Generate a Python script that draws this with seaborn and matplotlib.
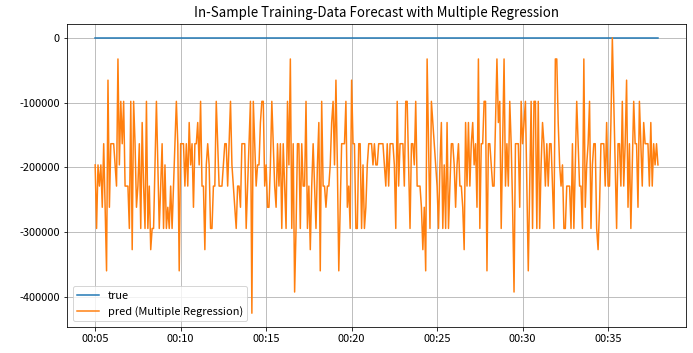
import matplotlib
matplotlib.use("Agg")
import matplotlib.pyplot as plt
import matplotlib.dates as mdates
import numpy as np
import pandas as pd
import seaborn as sns

# ---- data ----
title = "In-Sample Training-Data Forecast with Multiple Regression"
series_names = ["true", "pred (Multiple Regression)"]
start_time = "2000-01-01 00:05:00"
step = "5s"

pred_a = [
    -196200, -294300, -196200, -228900, -196200,
    -261600, -163500, -261600, -359700, -65400,
    -261600, -163500, -163500, -163500, -196200,
    -228900, -32700, -196200, -98100, -163500,
    -98100, -228900, -228900, -228900, -294300,
    -98100, -327000, -98100, -163500, -261600,
    -228900, -163500, -294300, -130800, -228900,
    -294300, -98100, -294300, -228900, -327000,
    -294300, -294300, -196200, -98100, -196200,
    -294300, -228900, -163500, -294300, -196200,
    -294300, -261600, -294300, -228900, -294300,
    -228900, -163500, -98100, -163500, -359700,
    -163500, -163500, -163500, -228900,
]
pred_b = [
    -163500, -228900, -130800, -196200, -163500,
    -261600, -163500, -163500, -130800, -196200,
    -98100, -228900, -228900, -327000, -196200,
    -163500, -196200, -294300, -294300, -228900,
    -228900, -98100, -163500, -228900, -228900,
    -228900, -196200, -163500, -163500, -228900,
    -163500, -98100, -196200, -228900, -261600,
    -294300, -228900, -228900, -261600, -163500,
    -163500, -163500, -294300, -228900, -163500,
    -98100, -425100, -98100, -163500, -228900,
    -196200, -196200, -130800, -98100, -98100,
    -228900, -196200, -261600, -261600, -196200,
    -98100, -163500, -228900, -261600, -163500,
    -228900,
]
pred_c = [
    -163500, -294300, -163500, -228900, -294300,
    -98100, -196200, -32700, -294300, -163500,
    -392400, -294300, -163500, -163500, -294300,
    -163500, -228900, -228900, -98100, -294300,
    -228900, -327000, -228900, -163500, -228900,
    -294300, -196200, -130800, -359700, -98100,
    -228900, -228900, -261600, -228900, -228900,
    -196200, -130800, -98100, -196200, -65400,
    -196200, -359700, -261600, -163500, -163500,
    -163500, -98100, -261600, -228900, -294300,
    -65400, -163500, -163500, -294300, -294300,
    -163500, -163500, -294300, -196200, -294300,
    -261600, -196200, -163500, -163500, -163500,
    -196200,
]
pred_d = [
    -163500, -196200, -196200, -163500, -163500,
    -163500, -163500, -196200, -228900, -163500,
    -228900, -163500, -163500, -163500, -196200,
    -294300, -98100, -228900, -163500, -163500,
    -163500, -228900, -98100, -98100, -196200,
    -294300, -163500, -163500, -196200, -98100,
    -228900, -228900, -228900, -261600, -327000,
    -261600, -359700, -32700, -163500, -294300,
    -98100, -130800, -163500, -196200, -228900,
    -294300, -196200, -130800, -294300, -196200,
    -294300, -130800, -294300, -228900, -163500,
    -163500, -196200, -261600, -196200, -163500,
    -228900, -228900, -261600, -327000, -130800,
    -228900,
]
pred_e = [
    -130800, -228900, -163500, -130800, -196200,
    -163500, -261600, -32700, -294300, -163500,
    -163500, -98100, -98100, -359700, -163500,
    -163500, -196200, -228900, -228900, -130800,
    -32700, -130800, -98100, -294300, -163500,
    -32700, -228900, -163500, -228900, -98100,
    -163500, -261600, -392400, -163500, -163500,
    -163500, -261600, -98100, -163500, -130800,
    -98100, -228900, -359700, -228900, -98100,
    -294300, -98100, -98100, -294300, -98100,
    -294300, -196200, -130800, -163500, -228900,
    -163500, -228900, -163500, -163500, -228900,
    -294300, -32700, -32700, -130800, -196200,
    -228900,
]
pred_f = [
    -196200, -294300, -294300, -228900, -228900,
    -228900, -294300, -163500, -294300, -196200,
    -98100, -163500, -228900, -228900, -294300,
    -32700, -261600, -196200, -163500, -98100,
    -294300, -196200, -163500, -163500, -294300,
    -327000, -261600, -163500, -163500, -163500,
    -228900, -130800, -228900, -228900, -130800,
    0, -98100, -196200, -294300, -163500,
    -163500, -228900, -98100, -228900, -163500,
    -65400, -261600, -163500, -294300, -196200,
    -98100, -163500, -163500, -261600, -98100,
    -163500, -228900, -130800, -163500, -163500,
    -163500, -228900, -130800, -228900, -163500,
    -196200, -163500, -196200,
]

pred_values = pred_a + pred_b + pred_c + pred_d + pred_e + pred_f
true_values = [0] * len(pred_values)
times = pd.date_range(start=start_time, periods=len(pred_values), freq=step)

# ---- figure ----
plt.rcParams["font.family"] = ["Noto Sans CJK JP", "DejaVu Sans"]
plt.rcParams["axes.unicode_minus"] = False

fig, ax = plt.subplots(figsize=(693 / 72, 353 / 72), dpi=72)
fig.subplots_adjust(left=0.0967, right=0.99, top=0.932, bottom=0.0737)

sns.lineplot(x=times, y=true_values, ax=ax, label=series_names[0],
             color="#1f77b4", linewidth=1.5, estimator=None)
sns.lineplot(x=times, y=pred_values, ax=ax, label=series_names[1],
             color="#ff7f0e", linewidth=1.5, estimator=None)

ax.set_title(title, fontsize=13.3, pad=7)
ax.set_xlabel("")
ax.set_ylabel("")
ax.tick_params(labelsize=11)
ax.grid(True, color="#b0b0b0", linewidth=0.8)
ax.xaxis.set_major_locator(mdates.MinuteLocator(byminute=range(0, 60, 5)))
ax.xaxis.set_major_formatter(mdates.DateFormatter("%H:%M"))
ax.legend(loc="lower left", fontsize=11)

fig.savefig("out.png", dpi=72)
